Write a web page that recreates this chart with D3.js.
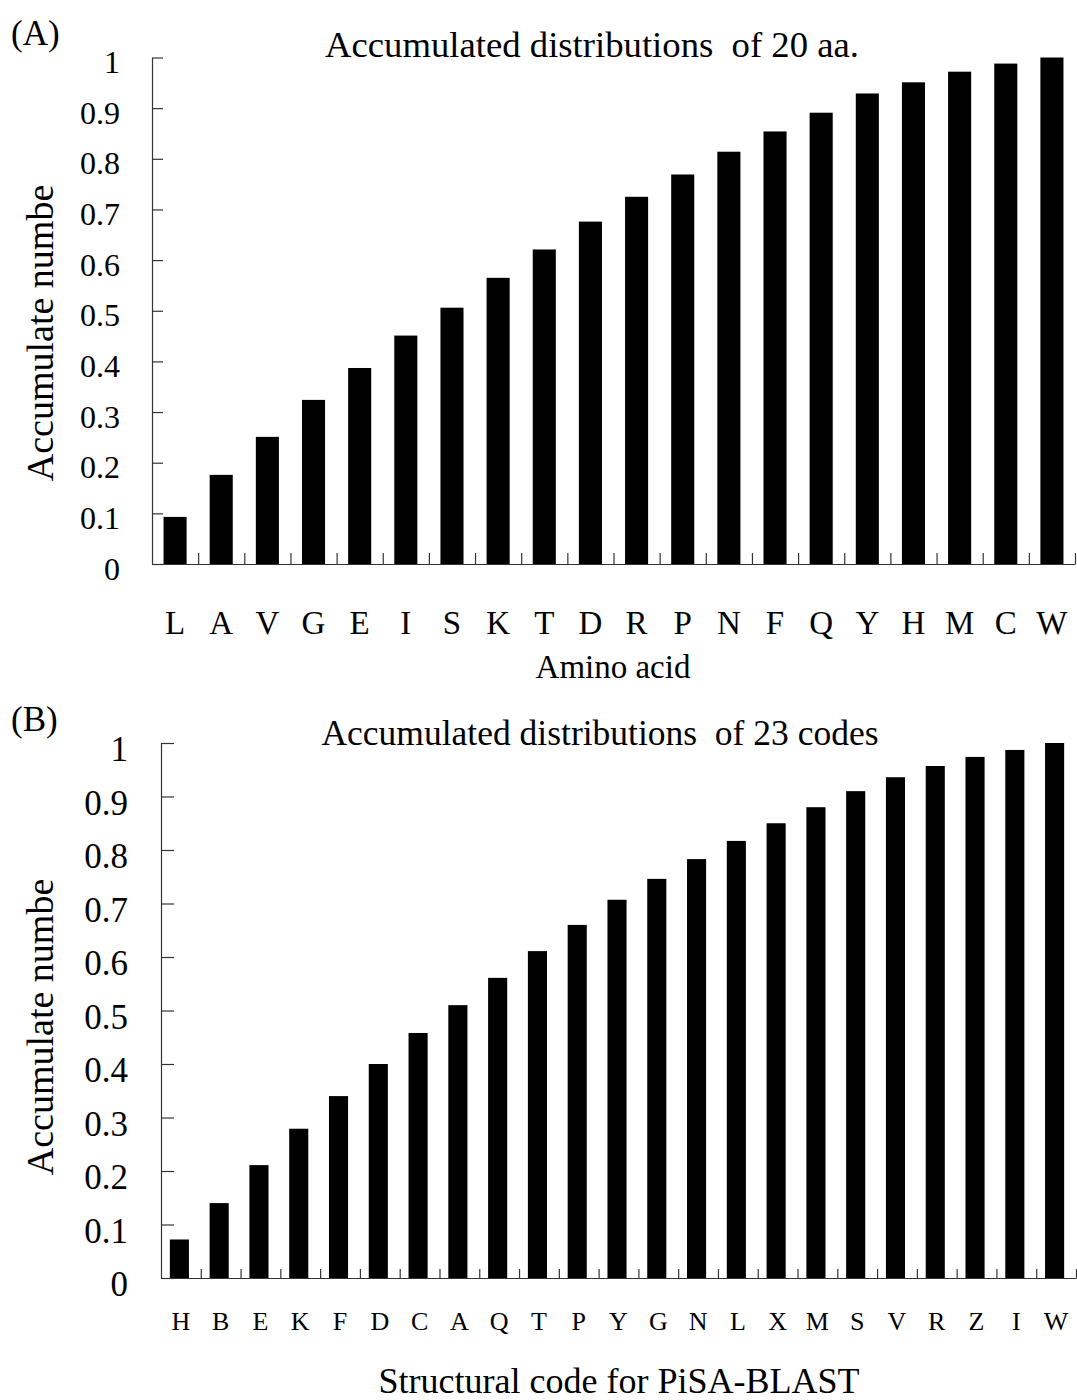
<!DOCTYPE html>
<html>
<head>
<meta charset="utf-8">
<script src="https://cdn.jsdelivr.net/npm/d3@7"></script>
<style>
  body { margin: 0; background: #fff; }
  text { font-family: "Liberation Serif", "Times New Roman", serif; fill: #000; white-space: pre; }
</style>
</head>
<body>
<svg id="drawing_region"></svg>
<script>
// panel A: 20 amino acids
const aaCategories = ['L','A','V','G','E','I','S','K','T','D','R','P','N','F','Q','Y','H','M','C','W'];
const aaValues = [0.093,0.176,0.251,0.324,0.387,0.451,0.506,0.565,0.621,0.676,0.725,0.769,0.814,0.854,0.891,0.929,0.951,0.972,0.988,1.0];

// panel B: 23 structural codes
const codeCategories = ['H','B','E','K','F','D','C','A','Q','T','P','Y','G','N','L','X','M','S','V','R','Z','I','W'];
const codeValues = [0.072,0.140,0.211,0.279,0.340,0.400,0.458,0.510,0.561,0.611,0.660,0.707,0.746,0.783,0.817,0.850,0.880,0.910,0.936,0.957,0.974,0.987,1.0];

const yTickLabels = ['0','0.1','0.2','0.3','0.4','0.5','0.6','0.7','0.8','0.9','1'];

const svg = d3.select('#drawing_region')
    .attr('width', 1077)
    .attr('height', 1400);

class BarChart {
    constructor( config, cats, vals ) {
        this.config = config;
        this.cats = cats;
        this.vals = vals;
        this.init();
    }
    init() {
        let self = this;
        const c = self.config;
        self.chart = svg.append('g');

        self.xscale = d3.scaleBand()
            .domain(self.cats)
            .range([c.left, c.right])
            .padding(0);
        self.yscale = d3.scaleLinear()
            .domain([0, 1])
            .range([c.bottom, c.top]);

        // y axis, ticks pointing inward
        const yaxis = d3.axisLeft(self.yscale)
            .tickValues(yTickLabels.map(d => +d))
            .tickFormat((d, i) => yTickLabels[i])
            .tickSizeInner(-c.ytick)
            .tickSizeOuter(0)
            .tickPadding(c.ypad);
        const yg = self.chart.append('g')
            .attr('transform', `translate(${c.left},0)`)
            .call(yaxis);
        yg.selectAll('text')
            .style('font-size', c.yfont + 'px')
            .attr('dy', c.ydy);

        // x axis line with tick marks between categories
        const bound = d3.scaleLinear().domain([0, self.cats.length]).range([c.left, c.right]);
        const xticks = d3.axisBottom(bound)
            .tickValues(self.cats.map((d, i) => i + 1))
            .tickFormat('')
            .tickSizeInner(-c.xtick)
            .tickSizeOuter(0);
        self.chart.append('g')
            .attr('transform', `translate(0,${c.bottom})`)
            .call(xticks);

        // category labels
        const xlab = d3.axisBottom(self.xscale).tickSize(0).tickPadding(0);
        const lg = self.chart.append('g')
            .attr('transform', `translate(0,${c.bottom})`)
            .call(xlab);
        lg.select('.domain').remove();
        lg.selectAll('text')
            .attr('y', c.labOffset)
            .attr('dy', null)
            .style('font-size', c.xfont + 'px');

        self.chart.selectAll('.domain, .tick line')
            .attr('stroke', '#333')
            .attr('stroke-width', 1.2);

        // titles
        self.chart.append('text')
            .attr('x', c.titleX).attr('y', c.titleY)
            .attr('text-anchor', 'middle')
            .style('font-size', c.titleFont + 'px')
            .text(c.title);
        self.chart.append('text')
            .attr('x', c.xtitleX).attr('y', c.xtitleY)
            .attr('text-anchor', 'middle')
            .style('font-size', c.xtitleFont + 'px')
            .text(c.xtitle);
        self.chart.append('text')
            .attr('transform', `translate(53,${c.ytitleY}) rotate(-90)`)
            .attr('text-anchor', 'middle')
            .style('font-size', '38px')
            .text('Accumulate numbe');
        self.chart.append('text')
            .attr('x', 11).attr('y', c.tagY)
            .style('font-size', '35px')
            .text(c.tag);
    }
    render() {
        let self = this;
        const bw = self.xscale.bandwidth() * self.config.barRatio;
        self.chart.selectAll('rect')
            .data(self.cats.map((d, i) => ({ name: d, value: self.vals[i] })))
            .enter()
            .append('rect')
            .attr('x', d => self.xscale(d.name) + (self.xscale.bandwidth() - bw) / 2 + self.config.barShift)
            .attr('y', d => self.yscale(d.value))
            .attr('width', bw)
            .attr('height', d => self.yscale(0) - self.yscale(d.value))
            .attr('fill', '#000');
    }
}

const chartA = new BarChart({
    left: 152, right: 1075, top: 57.5, bottom: 564,
    ytick: 11, ypad: 32, yfont: 32, ydy: '0.47em',
    xtick: 11, labOffset: 70, xfont: 33,
    barRatio: 0.5, barShift: 0,
    title: 'Accumulated distributions  of 20 aa.', titleX: 592, titleY: 57, titleFont: 36.7,
    xtitle: 'Amino acid', xtitleX: 613, xtitleY: 678, xtitleFont: 33,
    ytitleY: 333, tag: '(A)', tagY: 45
}, aaCategories, aaValues);
chartA.render();

const chartB = new BarChart({
    left: 161, right: 1076, top: 743, bottom: 1278,
    ytick: 13, ypad: 33, yfont: 35, ydy: '0.5em',
    xtick: 9, labOffset: 52, xfont: 26,
    barRatio: 0.48, barShift: -1.5,
    title: 'Accumulated distributions  of 23 codes', titleX: 600, titleY: 745, titleFont: 35.5,
    xtitle: 'Structural code for PiSA-BLAST', xtitleX: 619, xtitleY: 1393, xtitleFont: 36,
    ytitleY: 1027, tag: '(B)', tagY: 731
}, codeCategories, codeValues);
chartB.render();
</script>
</body>
</html>
